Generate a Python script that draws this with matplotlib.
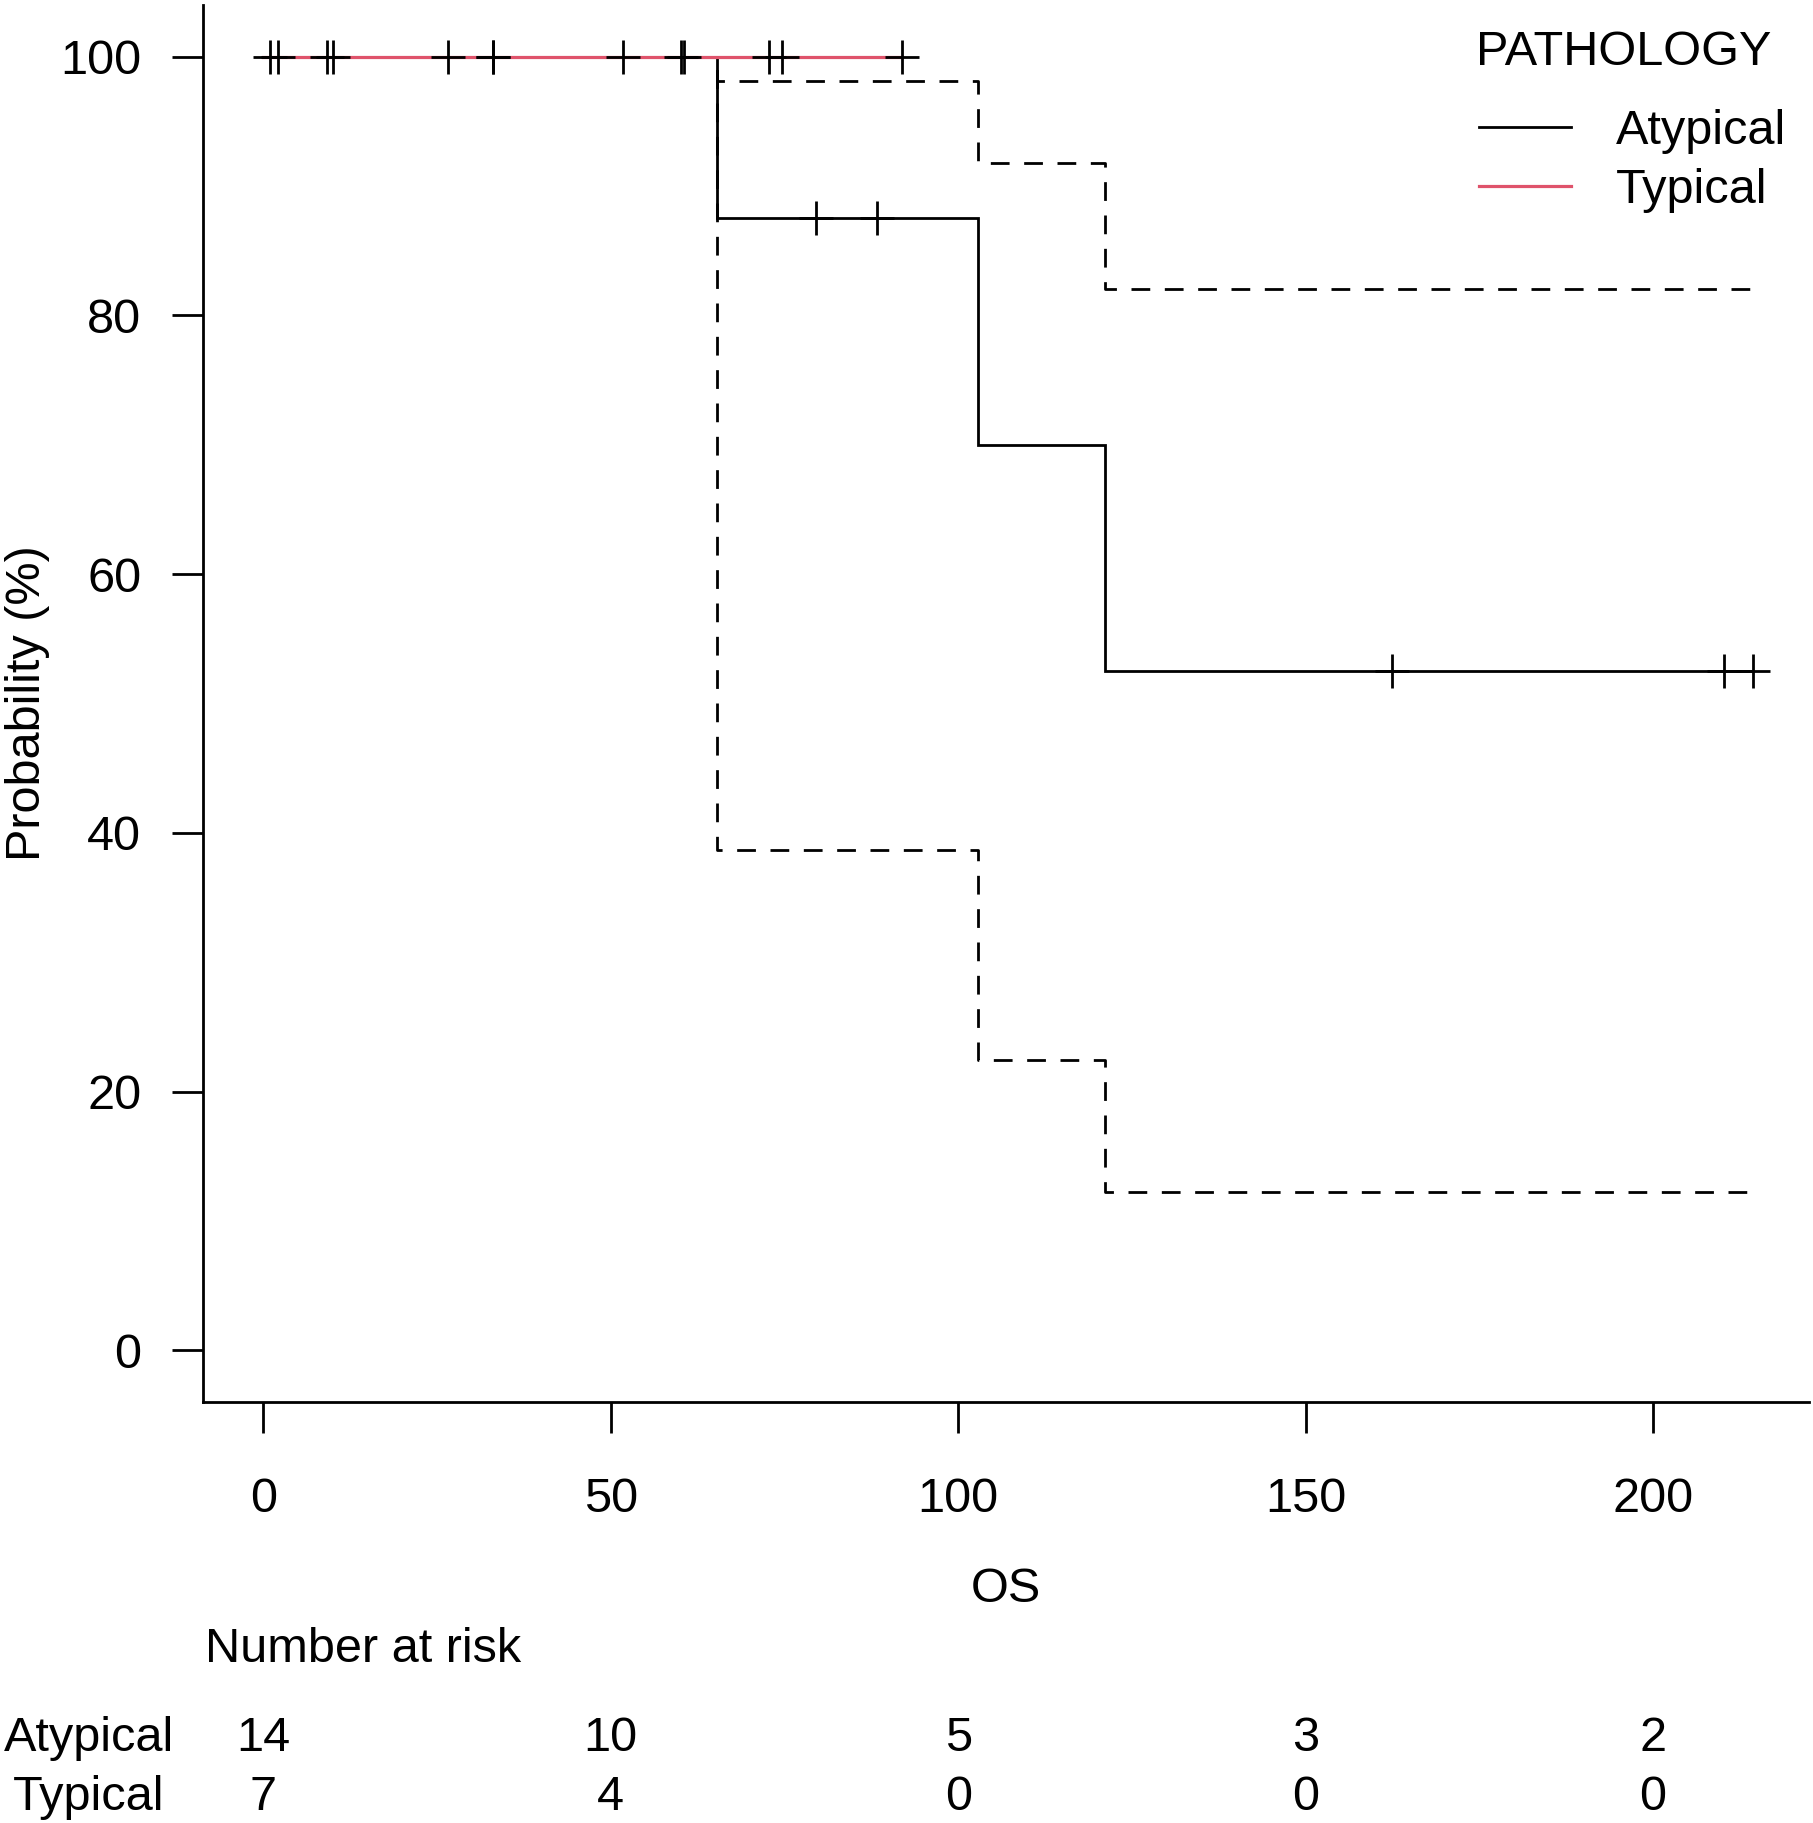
import matplotlib
matplotlib.use("Agg")
import matplotlib.pyplot as plt
from matplotlib.lines import Line2D
from matplotlib.transforms import blended_transform_factory

# ---------------- data ----------------
atyp_t = [0, 65.3, 102.9, 121.2, 214.4]
atyp_s = [100, 87.5, 70.0, 52.5, 52.5]
atyp_upper = [100, 98.1, 91.8, 82.05, 82.05]
atyp_lower = [100, 38.7, 22.4, 12.2, 12.2]

typ_t = [0, 91.9]
typ_s = [100, 100]

atyp_cens_t = [0.96, 9.2, 26.5, 33.0, 51.7, 60.1, 79.5, 88.3, 162.4, 210.2, 214.4]
atyp_cens_s = [100, 100, 100, 100, 100, 100, 87.5, 87.5, 52.5, 52.5, 52.5]
typ_cens_t = [2.07, 10.0, 33.0, 60.5, 72.8, 74.7, 91.9]
typ_cens_s = [100, 100, 100, 100, 100, 100, 100]

groups = ["Atypical", "Typical"]
group_colors = ["black", "#DF536B"]
risk_times = [0, 50, 100, 150, 200]
risk_atyp = [14, 10, 5, 3, 2]
risk_typ = [7, 4, 0, 0, 0]

x_ticks = [0, 50, 100, 150, 200]
y_ticks = [0, 20, 40, 60, 80, 100]

# ---------------- style ----------------
W, H = 1813, 1823
DPI = 100
FS = 35
LW = 2.0
plt.rcParams['font.family'] = ['Liberation Sans', 'DejaVu Sans']
plt.rcParams['lines.scale_dashes'] = False

fig = plt.figure(figsize=(W / DPI, H / DPI), dpi=DPI)
ax_left_px, ax_right_px = 202.95, 1808.6
ax_top_px, ax_bot_px = 4.8, 1402.0
ax = fig.add_axes([ax_left_px / W, 1 - ax_bot_px / H,
                   (ax_right_px - ax_left_px) / W, (ax_bot_px - ax_top_px) / H])

dash = (0, (13.5, 10.5))
ax.step(atyp_t, atyp_s, where='post', color=group_colors[0], lw=LW, zorder=3,
        solid_joinstyle='miter')
ax.step(atyp_t, atyp_upper, where='post', color='black', lw=LW, ls=dash, zorder=2)
ax.step(atyp_t, atyp_lower, where='post', color='black', lw=LW, ls=dash, zorder=2)
ax.step(typ_t, typ_s, where='post', color=group_colors[1], lw=LW + 0.3, zorder=4)

ax.plot(atyp_cens_t, atyp_cens_s, ls='none', marker='+', ms=24.5, mew=LW,
        color='black', zorder=5)
ax.plot(typ_cens_t, typ_cens_s, ls='none', marker='+', ms=24.5, mew=LW,
        color='black', zorder=5)

ax.set_xlim(-8.7, 222.4)
ax.set_ylim(-4, 104)
ax.set_xticks(x_ticks)
ax.set_yticks(y_ticks)
ax.tick_params(axis='both', labelsize=FS, length=22.5, width=LW, direction='out')
ax.tick_params(axis='x', pad=31.5)
ax.tick_params(axis='y', pad=22.0)
for sp in ['top', 'right']:
    ax.spines[sp].set_visible(False)
for sp in ['left', 'bottom']:
    ax.spines[sp].set_linewidth(LW)

ax.set_ylabel("Probability (%)", fontsize=FS)
ax.yaxis.set_label_coords(-0.0951, 0.5)

# x label and risk table (baselines in px from the top)
def fy(px):
    return 1 - px / H

fig.text(0.5 * (ax_left_px + ax_right_px) / W, fy(1601.7), "OS", fontsize=FS,
         ha='center', va='baseline')
fig.text(205 / W, fy(1661.7), "Number at risk", fontsize=FS, ha='left', va='baseline')

tr = blended_transform_factory(ax.transData, fig.transFigure)
for label, counts, base in [(groups[0], risk_atyp, 1751.0), (groups[1], risk_typ, 1810.0)]:
    fig.text(89 / W, fy(base), label, fontsize=FS, ha='center', va='baseline')
    for t, n in zip(risk_times, counts):
        ax.text(t, fy(base), str(n), transform=tr, fontsize=FS, ha='center',
                va='baseline', clip_on=False)

# legend
handles = [Line2D([], [], color=c, lw=LW + (0.3 if i else 0)) for i, c in enumerate(group_colors)]
leg = ax.legend(handles, groups, loc='upper left', frameon=False, fontsize=FS,
                bbox_to_anchor=(1478.5 / W, fy(108.6)), bbox_transform=fig.transFigure,
                borderpad=0, borderaxespad=0, handlelength=1.9, handletextpad=0.93,
                labelspacing=0.29)
fig.text(1624 / W, fy(65.4), "PATHOLOGY", fontsize=FS, ha='center', va='baseline')

fig.savefig("out.png", dpi=DPI)
